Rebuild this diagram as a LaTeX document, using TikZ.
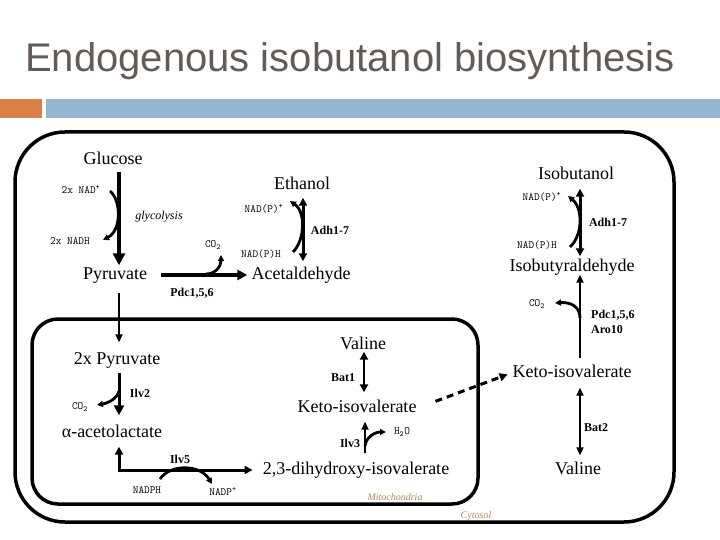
\documentclass[tikz,border=0pt]{standalone}
\usepackage{fontspec}
\setmainfont{Liberation Serif}
\newfontfamily\titlefont{Liberation Sans}
\usetikzlibrary{arrows.meta}
\definecolor{titlegray}{RGB}{100,90,86}
\definecolor{orangebar}{RGB}{221,128,71}
\definecolor{bluebar}{RGB}{148,182,210}
\definecolor{comptan}{RGB}{176,136,88}
\begin{document}
\begin{tikzpicture}[x=1pt,y=-1pt,
  met/.style={font=\fontsize{18}{20}\selectfont, inner sep=1pt, text height=13pt, text depth=4pt},
  cof/.style={font=\ttfamily\fontsize{11}{12}\selectfont, inner sep=1pt},
  enz/.style={font=\bfseries\fontsize{12}{14}\selectfont, inner sep=1pt},
  comp/.style={font=\itshape\fontsize{10}{12}\selectfont, text=comptan, inner sep=1pt},
  box/.style={line width=3.5pt},
  bigarr/.style={line width=4pt, -{Triangle[width=12pt,length=12pt]}},
  medarr/.style={line width=3.5pt, -{Triangle[width=10pt,length=10pt]}},
  thinarr/.style={line width=2pt, -{Triangle[width=7pt,length=8pt]}},
  dblarr/.style={line width=3pt, {Triangle[width=8pt,length=8pt]}-{Triangle[width=8pt,length=8pt]}},
  dblthin/.style={line width=2pt, {Triangle[width=7pt,length=8pt]}-{Triangle[width=7pt,length=8pt]}},
  curv/.style={line width=2.8pt, -{Triangle[width=6pt,length=6pt]}},
]
\useasboundingbox (0,0) rectangle (720,540);

% title and bars
\node[font=\titlefont\fontsize{40}{44}\selectfont, text=titlegray, anchor=base west, inner sep=0] (title) at (25,72) {Endogenous isobutanol biosynthesis};
\fill[orangebar] (0,99) rectangle (42,118);
\fill[bluebar] (46,99) rectangle (720,118);

% compartments
\draw[box, rounded corners=50pt] (15,132) rectangle (674,522);
\draw[box, rounded corners=26pt] (32,319) rectangle (478,504);
\node[comp] (mito) at (395,497) {Mitochondria};
\node[comp] (cyto) at (476,516) {Cytosol};

% metabolites
\node[met] (glucose) at (113,160) {Glucose};
\node[met] (ethanol) at (302,185) {Ethanol};
\node[met] (isobutanol) at (576,175) {Isobutanol};
\node[met] (pyruvate) at (115,275) {Pyruvate};
\node[met] (acetald) at (301,275) {Acetaldehyde};
\node[met] (isobutyr) at (572,267) {Isobutyraldehyde};
\node[met] (valm) at (363,345) {Valine};
\node[met] (pyr2) at (117,360) {2x Pyruvate};
\node[met] (ketom) at (357,408) {Keto-isovalerate};
\node[met] (ketoc) at (572,373) {Keto-isovalerate};
\node[met] (acetol) at (112,433) {α-acetolactate};
\node[met] (dihyd) at (356,470) {2,3-dihydroxy-isovalerate};
\node[met] (valc) at (578,470) {Valine};

% cofactors and enzymes
\node[cof] (nad1) at (81,189) {2x NAD\textsuperscript{+}};
\node[cof] (nadh1) at (70,241) {2x NADH};
\node[font=\itshape\fontsize{12}{14}\selectfont, inner sep=1pt] (glyc) at (159,217) {glycolysis};
\node[cof] (co2a) at (213,245) {CO\textsubscript{2}};
\node[enz] (pdc1) at (192,293) {Pdc1,5,6};
\node[cof] (nadp1) at (264,209) {NAD(P)\textsuperscript{+}};
\node[cof] (nadph1) at (261,254) {NAD(P)H};
\node[enz] (adh1) at (330,230) {Adh1-7};
\node[cof] (nadp2) at (542,197) {NAD(P)\textsuperscript{+}};
\node[cof] (nadph2) at (537,245) {NAD(P)H};
\node[enz] (adh2) at (608,222) {Adh1-7};
\node[cof] (co2b) at (537,304) {CO\textsubscript{2}};
\node[enz, anchor=west] (pdc2) at (590,315) {Pdc1,5,6};
\node[enz, anchor=west] (aro) at (590,330) {Aro10};
\node[enz] (bat1) at (343,378) {Bat1};
\node[enz] (ilv2) at (140,393) {Ilv2};
\node[cof] (co2c) at (80,407) {CO\textsubscript{2}};
\node[enz] (bat2) at (596,428) {Bat2};
\node[enz] (ilv3) at (350,443) {Ilv3};
\node[cof] (h2o) at (402,432) {H\textsubscript{2}O};
\node[enz] (ilv5) at (180,459) {Ilv5};
\node[cof] (nadph) at (147,490) {NADPH};
\node[cof] (nadpp) at (223,491) {NADP\textsuperscript{+}};

% column positions
\coordinate (xL) at (119,0);
\coordinate (xE) at (303,0);
\coordinate (xR) at (580,0);
\coordinate (xB) at (364,0);
\coordinate (xI) at (365,0);

% main pathway arrows
\draw[bigarr, shorten <=2pt] (glucose.south -| xL) -- (pyruvate.north -| xL);
\draw[medarr, shorten <=13pt, shorten >=3pt] (pyruvate.east) -- (acetald.west);
\draw[dblarr, shorten <=3pt, shorten >=4pt] (ethanol.south -| xE) -- (acetald.north -| xE);
\draw[dblarr, shorten <=4pt, shorten >=1pt] (isobutanol.south -| xR) -- (isobutyr.north -| xR);
\draw[thinarr, shorten <=5pt, shorten >=-2pt] (ketoc.north -| xR) -- (isobutyr.south -| xR);
\draw[thinarr, shorten <=8pt, shorten >=8pt] (pyruvate.south -| xL) -- (pyr2.north -| xL);
\draw[medarr, line width=3pt, shorten <=3pt, shorten >=8pt] (pyr2.south -| xL) -- (acetol.north -| xL);
\draw[dblarr, line width=2.5pt, shorten <=-3pt, shorten >=6pt] (valm.south -| xB) -- (ketom.north -| xB);
\draw[dblthin, shorten <=5pt, shorten >=5pt] (ketoc.south -| xR) -- (valc.north -| xR);
\draw[line width=3pt, {Triangle[width=8pt,length=8pt]}-{Triangle[width=8pt,length=8pt]}, shorten <=4pt, shorten >=9pt] (acetol.south -| xL) |- (dihyd.west);
\draw[thinarr, line width=2.5pt, shorten <=7pt, shorten >=4pt] (dihyd.north -| xI) -- (ketom.south -| xI);
\draw[line width=3pt, dash pattern=on 7pt off 5pt, -{Triangle[width=8pt,length=8pt]}, shorten <=19pt, shorten >=4pt] (ketom.east) -- (ketoc.west);

% side curves
\coordinate (g1) at (110,191);
\coordinate (g2) at (103,240);
\draw[curv] (g1) .. controls (121,200) and (122,230) .. (g2);
\coordinate (c1) at (206,274);
\coordinate (c2) at (221,255);
\draw[curv] (c1) .. controls (216,274) and (221,266) .. (c2);
\coordinate (e1) at (293,252);
\coordinate (e2) at (290,201);
\draw[curv] (e1) .. controls (305,240) and (306,212) .. (e2);
\coordinate (i1) at (570,247);
\coordinate (i2) at (568,196);
\draw[curv] (i1) .. controls (583,235) and (583,208) .. (i2);
\coordinate (p1) at (580,318);
\coordinate (p2) at (555,303);
\draw[curv] (p1) .. controls (580,306) and (570,302) .. (p2);
\coordinate (v1) at (119,391);
\coordinate (v2) at (97,405);
\draw[curv] (v1) .. controls (117,399) and (108,403) .. (v2);
\coordinate (w1) at (365,446);
\coordinate (w2) at (386,432);
\draw[curv] (w1) .. controls (366,437) and (375,432) .. (w2);
\coordinate (n1) at (160,479);
\coordinate (n2) at (212,484);
\draw[curv] (n1) .. controls (170,464) and (200,464) .. (n2);
\end{tikzpicture}
\end{document}
